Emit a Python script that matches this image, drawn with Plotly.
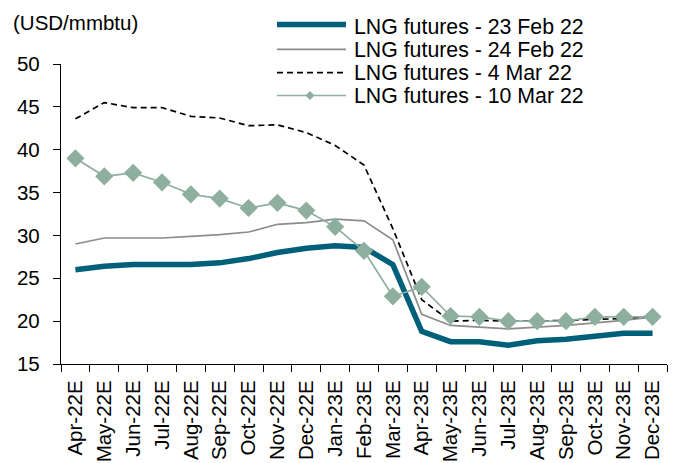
import plotly.graph_objects as go

months = ["Apr-22E", "May-22E", "Jun-22E", "Jul-22E", "Aug-22E", "Sep-22E", "Oct-22E",
          "Nov-22E", "Dec-22E", "Jan-23E", "Feb-23E", "Mar-23E", "Apr-23E", "May-23E",
          "Jun-23E", "Jul-23E", "Aug-23E", "Sep-23E", "Oct-23E", "Nov-23E", "Dec-23E"]

# USD/mmbtu
feb23 = [26.0, 26.4, 26.6, 26.6, 26.6, 26.8, 27.3, 28.0, 28.5, 28.8, 28.6, 26.6,
         18.8, 17.6, 17.6, 17.2, 17.7, 17.9, 18.2, 18.6, 18.6]
feb24 = [29.0, 29.7, 29.7, 29.7, 29.9, 30.1, 30.4, 31.3, 31.5, 31.9, 31.7, 29.5,
         20.8, 19.5, 19.3, 19.1, 19.3, 19.5, 19.8, 20.1, 20.5]
mar04 = [43.6, 45.5, 44.9, 44.9, 43.9, 43.7, 42.8, 42.9, 42.0, 40.5, 38.2, 30.8,
         22.5, 20.0, 20.1, 20.0, 20.0, 20.1, 20.2, 20.3, 20.6]
mar10 = [39.0, 36.9, 37.3, 36.2, 34.8, 34.3, 33.2, 33.8, 32.9, 31.0, 28.2, 22.9,
         24.0, 20.6, 20.5, 20.0, 20.0, 20.0, 20.5, 20.5, 20.5]

font = "Liberation Sans, Arial, sans-serif"
OFF = 8  # the page body has an 8px margin
W, H = 678 - OFF, 463 - OFF
# plot area in window pixels
X0, X1, Y0, Y1 = 61, 667, 64, 364


def px(x):
    return (x - X0) / (X1 - X0)


def py(y):
    return (Y1 - y) / (Y1 - Y0)


teal, grey, green = "#005f79", "#8c8c8c", "#8eae9f"

fig = go.Figure()
fig.add_trace(go.Scatter(x=months, y=feb23, mode="lines", name="LNG futures - 23 Feb 22",
                         line=dict(color=teal, width=5.5)))
fig.add_trace(go.Scatter(x=months, y=feb24, mode="lines", name="LNG futures - 24 Feb 22",
                         line=dict(color=grey, width=1.7)))
fig.add_trace(go.Scatter(x=months, y=mar04, mode="lines", name="LNG futures - 4 Mar 22",
                         line=dict(color="black", width=1.7, dash="6px,4px")))
fig.add_trace(go.Scatter(x=months, y=mar10, mode="lines+markers", name="LNG futures - 10 Mar 22",
                         line=dict(color=green, width=1.7),
                         marker=dict(symbol="diamond", size=14, color=green)))

# hand-made legend (the original one has long keys and tight rows)
line_rows = [24.5, 49.3, 72.7, 95.5]
text_rows = [27, 49.5, 72.5, 96]
keys = [dict(color=teal, width=5.5), dict(color=grey, width=1.7),
        dict(color="black", width=1.7, dash="6px,4px"), dict(color=green, width=1.7)]
for tr, ly, ty, ln in zip(fig.data, line_rows, text_rows, keys):
    fig.add_shape(type="line", xref="paper", yref="paper", x0=px(277), x1=px(346),
                  y0=py(ly), y1=py(ly), line=ln)
    fig.add_annotation(text=tr.name, xref="paper", yref="paper", x=px(352), y=py(ty),
                       xanchor="left", yanchor="middle", showarrow=False,
                       font=dict(size=21.3))
cx, cy, d = 310, line_rows[3], 4.5
fig.add_shape(type="path", xref="paper", yref="paper", fillcolor=green, line=dict(width=0),
              path=f"M {px(cx - d)} {py(cy)} L {px(cx)} {py(cy - d)} L {px(cx + d)} {py(cy)} "
                   f"L {px(cx)} {py(cy + d)} Z")

fig.update_layout(
    width=W, height=H,
    margin=dict(l=X0 - OFF, r=W - (X1 - OFF), t=Y0 - OFF, b=H - (Y1 - OFF)),
    paper_bgcolor="white", plot_bgcolor="white",
    font=dict(family=font, size=20.5, color="black"),
    showlegend=False,
)
fig.update_xaxes(type="category", range=[-0.5, len(months) - 0.5], showline=True,
                 linecolor="black", linewidth=1.3,
                 ticks="outside", tickson="boundaries", ticklen=7, tickcolor="black",
                 tickwidth=1.3, tickangle=-90, showgrid=False, automargin=False,
                 ticklabelstandoff=7)
fig.update_yaxes(range=[15, 50], dtick=5, showline=True, linecolor="black", linewidth=1.3,
                 ticks="outside", ticklen=7, tickcolor="black", tickwidth=1.3,
                 showgrid=False, zeroline=False, automargin=False, ticklabelstandoff=9)
fig.add_annotation(text="(USD/mmbtu)", xref="paper", yref="paper", x=px(11), y=py(23),
                   xanchor="left", yanchor="middle", showarrow=False, font=dict(size=20.5))

fig.write_html("out.html")
